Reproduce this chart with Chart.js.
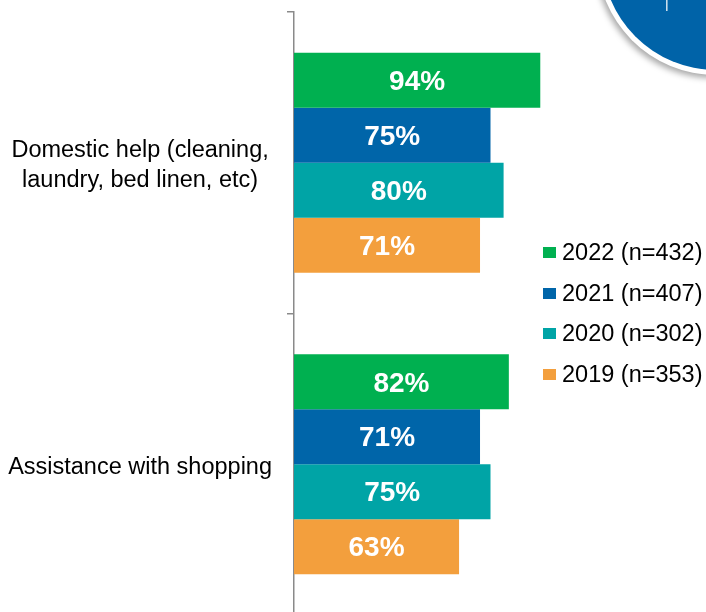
<!DOCTYPE html>
<html>
<head>
<meta charset="utf-8">
<script src="https://cdn.jsdelivr.net/npm/chart.js@4"></script>
<style>
  html, body { margin: 0; padding: 0; background: #fff; overflow: hidden; }
  #c { position: absolute; left: 0; top: 0; display: block; }
  #legend { position: absolute; left: 543px; top: 232px; font-family: "Liberation Sans", Arial, sans-serif; font-size: 23.5px; color: #000; }
  #legend .row { display: flex; align-items: center; height: 40.8px; white-space: nowrap; }
  #legend .box { width: 13px; height: 11px; margin-right: 6px; flex: none; }
</style>
</head>
<body>
<canvas id="c" width="706" height="620"></canvas>
<div id="legend"></div>
<script>
// Services used, by survey year
const categories = [["Domestic help (cleaning,", "laundry, bed linen, etc)"], "Assistance with shopping"];
const seriesNames = ["2022 (n=432)", "2021 (n=407)", "2020 (n=302)", "2019 (n=353)"];
const values2022 = [94, 82];
const values2021 = [75, 71];
const values2020 = [80, 75];
const values2019 = [71, 63];
const seriesColors = ["#00B050", "#0065A9", "#00A4A6", "#F39F3D"];

const seriesValues = [values2022, values2021, values2020, values2019];
const FONT = '"Liberation Sans", Arial, sans-serif';

// Percentage labels centred inside each bar
const barLabels = {
  id: 'barLabels',
  afterDatasetsDraw(chart) {
    const ctx = chart.ctx;
    ctx.save();
    ctx.font = 'bold 28px ' + FONT;
    ctx.fillStyle = '#fff';
    ctx.textAlign = 'center';
    ctx.textBaseline = 'middle';
    chart.data.datasets.forEach((ds, i) => {
      chart.getDatasetMeta(i).data.forEach((bar, j) => {
        ctx.fillText(ds.data[j] + '%', (bar.x + bar.base) / 2, bar.y + 2);
      });
    });
    ctx.restore();
  }
};

// Round badge in the top-right corner
const cornerBadge = {
  id: 'cornerBadge',
  afterDraw(chart) {
    const ctx = chart.ctx;
    ctx.save();
    ctx.shadowColor = 'rgba(0,0,0,0.35)';
    ctx.shadowBlur = 6;
    ctx.shadowOffsetX = -2;
    ctx.shadowOffsetY = 3;
    ctx.fillStyle = '#fff';
    ctx.beginPath();
    ctx.arc(716, -44, 119, 0, Math.PI * 2);
    ctx.fill();
    ctx.shadowColor = 'transparent';
    ctx.fillStyle = '#0063A8';
    ctx.beginPath();
    ctx.arc(716, -44, 114, 0, Math.PI * 2);
    ctx.fill();
    ctx.fillStyle = '#fff';
    ctx.font = '14px ' + FONT;
    ctx.textBaseline = 'alphabetic';
    ctx.fillText('|', 665, 8);
    ctx.restore();
  }
};

new Chart(document.getElementById('c'), {
  type: 'bar',
  data: {
    labels: categories,
    datasets: seriesNames.map((name, i) => ({
      label: name,
      data: seriesValues[i],
      backgroundColor: seriesColors[i],
      borderWidth: 0,
      barPercentage: 1,
      categoryPercentage: 0.729
    }))
  },
  options: {
    indexAxis: 'y',
    responsive: false,
    animation: false,
    layout: { padding: { top: 12, bottom: 5, left: 0, right: 150 } },
    plugins: { legend: { display: false }, tooltip: { enabled: false } },
    scales: {
      x: { display: false, min: 0, max: 100 },
      y: {
        afterFit(scale) {
          scale.width = 294;
          scale.paddingTop = 0;
          scale.paddingBottom = 0;
        },
        border: { display: true, color: '#8a8a8a', width: 1.5 },
        grid: { drawOnChartArea: false, drawTicks: true, tickLength: 7, color: '#8a8a8a', lineWidth: 1.5, offset: true },
        ticks: {
          crossAlign: 'center',
          padding: 15,
          labelOffset: 3,
          color: '#000',
          font: { family: FONT, size: 23.5, lineHeight: 1.28 }
        }
      }
    }
  },
  plugins: [barLabels, cornerBadge]
});

// Legend built from the same series arrays
const legend = document.getElementById('legend');
seriesNames.forEach((name, i) => {
  const row = document.createElement('div');
  row.className = 'row';
  const box = document.createElement('span');
  box.className = 'box';
  box.style.background = seriesColors[i];
  const txt = document.createElement('span');
  txt.textContent = name;
  row.appendChild(box);
  row.appendChild(txt);
  legend.appendChild(row);
});
</script>
</body>
</html>
